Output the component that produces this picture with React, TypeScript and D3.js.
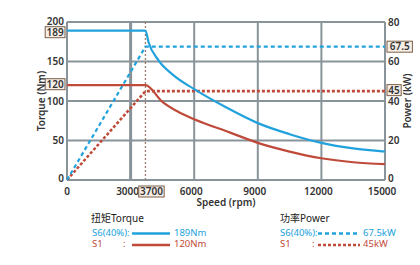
import React from "react";
import * as d3 from "d3";

// speed axis (rpm) and the two value axes
const speedTicks = [0, 3000, 6000, 9000, 12000, 15000];
const torqueTicks = [0, 50, 100, 150, 200];
const powerTicks = [0, 20, 40, 60, 80];
const baseSpeed = 3700;

// rated values shown in the boxes and legend
const s6Torque = 189;
const s1Torque = 120;
const s6Power = 67.5;
const s1Power = 45;

// torque curves [rpm, Nm]
const s6TorqueCurve: [number, number][] = [
  [0, s6Torque], [baseSpeed, s6Torque], [3850, 174], [4300, 152], [5000, 133],
  [6000, 115], [7500, 92], [9000, 72], [10500, 58], [12000, 47], [13500, 40], [15000, 36],
];
const s1TorqueCurve: [number, number][] = [
  [0, s1Torque], [baseSpeed, s1Torque], [4500, 99], [5200, 87], [6000, 77], [7700, 60],
  [9000, 47], [10500, 36], [12000, 27.5], [13500, 22.5], [15000, 20],
];
// power curves [rpm, kW]
const s6PowerCurve: [number, number][] = [[0, 0], [baseSpeed, s6Power], [15000, s6Power]];
const s1PowerCurve: [number, number][] = [[0, 0], [baseSpeed, s1Power], [15000, s1Power]];

const BLUE = "#22a2dc";
const RED = "#bf4a3a";
const GRID = "#88939a";
const BOX = "#7d5f48";
const FONT = "'Noto Sans', 'Noto Sans CJK SC', sans-serif";

const x = d3.scaleLinear().domain([0, 15000]).range([67, 385]);
const yT = d3.scaleLinear().domain([0, 200]).range([180, 22]);
const yP = d3.scaleLinear().domain([0, 80]).range([180, 22]);

const torqueLine = d3.line<[number, number]>().x((d) => x(d[0])).y((d) => yT(d[1])).curve(d3.curveMonotoneX);
const powerLine = d3.line<[number, number]>().x((d) => x(d[0])).y((d) => yP(d[1]));

function BoxLabel({ cx, cy, text, anchor }: { cx: number; cy: number; text: string; anchor: "start" | "end" | "middle" }) {
  const w = text.length * 5.6 + 3;
  const x0 = anchor === "end" ? cx - w : anchor === "start" ? cx : cx - w / 2;
  return (
    <g>
      <rect x={x0} y={cy - 5.5} width={w} height={11} fill="#f6efe8" stroke={BOX} strokeWidth={1} />
      <text x={x0 + w / 2} y={cy + 3.5} textAnchor="middle" fontSize={10} fontWeight={600} fill="#333">{text}</text>
    </g>
  );
}

export default function App() {
  return (
    <svg width={420} height={265} style={{ position: "absolute", left: 0, top: 0, background: "#fff" }} fontFamily={FONT}>
      {/* grid */}
      {torqueTicks.map((t) => (
        <line key={"h" + t} x1={x(0)} x2={x(15000)} y1={yT(t)} y2={yT(t)} stroke={GRID} strokeWidth={2} />
      ))}
      {speedTicks.map((s) => (
        <line key={"v" + s} x1={x(s)} x2={x(s)} y1={yT(0)} y2={yT(200)} stroke={GRID} strokeWidth={s === 3000 ? 3 : 2} />
      ))}
      <line x1={x(baseSpeed)} x2={x(baseSpeed)} y1={yT(0)} y2={yT(200)} stroke="#a07a68" strokeWidth={1.3} strokeDasharray="2,2" />

      {/* power */}
      <path d={powerLine(s1PowerCurve)!} fill="none" stroke={RED} strokeWidth={2.6} strokeDasharray="3,2" />
      <path d={powerLine(s6PowerCurve)!} fill="none" stroke={BLUE} strokeWidth={2.2} strokeDasharray="4,3" />
      {/* torque */}
      <path d={torqueLine(s1TorqueCurve)!} fill="none" stroke={RED} strokeWidth={2.2} />
      <path d={torqueLine(s6TorqueCurve)!} fill="none" stroke={BLUE} strokeWidth={2.2} />

      {/* left axis */}
      {torqueTicks.map((t) => (
        <text key={"lt" + t} x={64} y={yT(t) + (t === 0 ? 2 : t === 200 ? 2.5 : 3.5)} textAnchor="end" fontSize={10} fontWeight={600} fill="#333">{t}</text>
      ))}
      <BoxLabel cx={65} cy={yT(s6Torque) + 1.5} text={String(s6Torque)} anchor="end" />
      <BoxLabel cx={65} cy={yT(s1Torque) - 1} text={String(s1Torque)} anchor="end" />
      <text transform={`translate(45,${yT(100)}) rotate(-90)`} textAnchor="middle" fontSize={10} fontWeight={600} fill="#333">Torque (Nm)</text>

      {/* right axis */}
      {powerTicks.map((p) => (
        <text key={"rt" + p} x={388} y={yP(p) + (p === 0 ? 2 : 3.5)} textAnchor="start" fontSize={10} fontWeight={600} fill="#333">{p}</text>
      ))}
      <BoxLabel cx={387} cy={yP(s6Power)} text={String(s6Power)} anchor="start" />
      <BoxLabel cx={387} cy={yP(s1Power) - 1} text={String(s1Power)} anchor="start" />
      <text transform={`translate(411,${yP(40)}) rotate(-90)`} textAnchor="middle" fontSize={10} fontWeight={600} fill="#333">Power (kW)</text>

      {/* bottom axis */}
      {speedTicks.map((s) => (
        <text key={"bt" + s} x={x(s) - (s === 0 ? 0 : 3)} y={195} textAnchor="middle" fontSize={10} fontWeight={600} fill="#333">{s}</text>
      ))}
      <BoxLabel cx={x(baseSpeed) + 6} cy={191.5} text={String(baseSpeed)} anchor="middle" />
      <text x={226} y={206} textAnchor="middle" fontSize={10} fontWeight={600} fill="#333">Speed (rpm)</text>

      {/* legend: torque */}
      <text x={91} y={222} fontSize={10} fill="#222">扭矩Torque</text>
      <text x={92} y={235.5} fontSize={9.5} fill={BLUE}>S6(40%):</text>
      <line x1={132} x2={170} y1={233.5} y2={233.5} stroke={BLUE} strokeWidth={2.5} />
      <text x={174} y={235.5} fontSize={9.5} fill={BLUE}>{s6Torque}Nm</text>
      <text x={92} y={247} fontSize={9.5} fill={RED}>S1</text>
      <text x={123} y={247} fontSize={9.5} fill={RED}>:</text>
      <line x1={132} x2={170} y1={245} y2={245} stroke={RED} strokeWidth={2.5} />
      <text x={174} y={247} fontSize={9.5} fill={RED}>{s1Torque}Nm</text>

      {/* legend: power */}
      <text x={280} y={222} fontSize={10} fill="#222">功率Power</text>
      <text x={280} y={235.5} fontSize={9.5} fill={BLUE}>S6(40%):</text>
      <line x1={318} x2={360} y1={233.5} y2={233.5} stroke={BLUE} strokeWidth={2.5} strokeDasharray="4,3" />
      <text x={363} y={235.5} fontSize={9.5} fill={BLUE}>{s6Power}kW</text>
      <text x={280} y={247} fontSize={9.5} fill={RED}>S1</text>
      <text x={312} y={247} fontSize={9.5} fill={RED}>:</text>
      <line x1={318} x2={360} y1={245} y2={245} stroke={RED} strokeWidth={2.5} strokeDasharray="3,2" />
      <text x={363} y={247} fontSize={9.5} fill={RED}>{s1Power}kW</text>
    </svg>
  );
}
